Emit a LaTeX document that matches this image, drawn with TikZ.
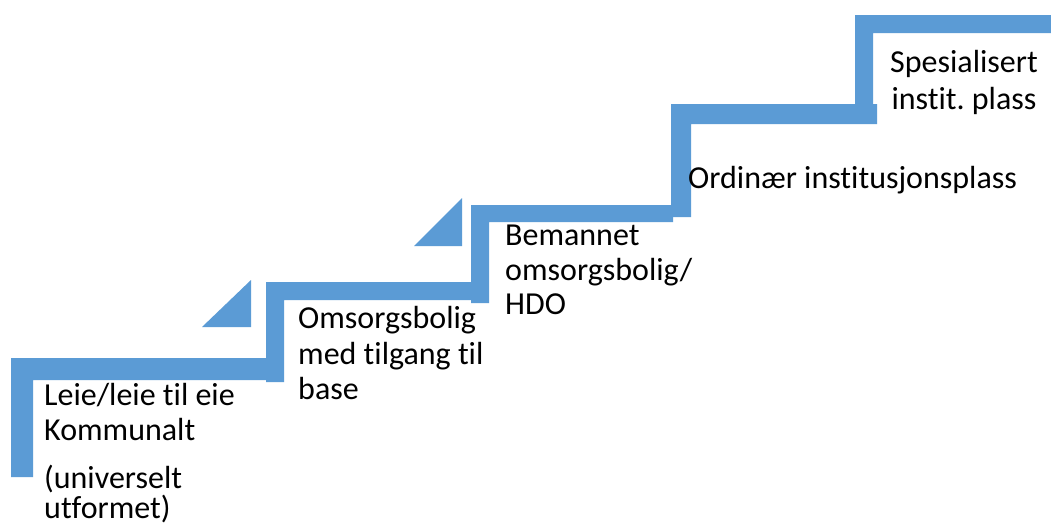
\documentclass[tikz,border=0pt]{standalone}
\usepackage{fontspec}
\setmainfont[Ligatures=NoCommon]{Carlito}
\definecolor{stepblue}{HTML}{5B9BD5}
\frenchspacing
\begin{document}
\begin{tikzpicture}[x=1pt,y=-1pt,
  stair/.style={fill=stepblue,draw=none},
  lbl/.style={anchor=base west,inner sep=0pt,font=\fontsize{32}{36}\selectfont,text=black},
  lblc/.style={anchor=base,inner sep=0pt,font=\fontsize{32}{36}\selectfont,text=black}]
\useasboundingbox[fill=white] (0,0) rectangle (1051,528);
% stair steps (L-shaped half frames)
\fill[stair] (11,358) -- (266,358) -- (266,380) -- (33,380) -- (33,477) -- (11,477) -- cycle;
\fill[stair] (266,282) -- (471,282) -- (471,300) -- (284,300) -- (284,382) -- (266,382) -- cycle;
\fill[stair] (471,205) -- (673,205) -- (673,222) -- (489,222) -- (489,303) -- (471,303) -- cycle;
\fill[stair] (671,104) -- (877,104) -- (877,124) -- (691,124) -- (691,217) -- (671,217) -- cycle;
\fill[stair] (855,15) -- (1051,15) -- (1051,33) -- (873,33) -- (873,110) -- (855,110) -- cycle;
% triangles
\fill[stair] (202,327) -- (251,280) -- (251,327) -- cycle;
\fill[stair] (414,246) -- (462,198) -- (462,246) -- cycle;
% labels
\node[lbl] (a1) at (44,405) {Leie/leie til eie};
\node[lbl] (a2) at (44,440) {Kommunalt};
\node[lbl] (a3) at (44,488) {(universelt};
\node[lbl] (a4) at (44,518) {utformet)};
\node[lbl] (b1) at (298,328) {Omsorgsbolig};
\node[lbl] (b2) at (298,364) {med tilgang til};
\node[lbl] (b3) at (298,399) {base};
\node[lbl] (c1) at (505,245) {Bemannet};
\node[lbl] (c2) at (505,280) {omsorgsbolig/};
\node[lbl] (c3) at (505,314) {HDO};
\node[lbl] (d1) at (688,188) {Ordinær institusjonsplass};
\node[lblc] (e1) at (964,72) {Spesialisert};
\node[lblc] (e2) at (964,109) {instit. plass};
\end{tikzpicture}
\end{document}
